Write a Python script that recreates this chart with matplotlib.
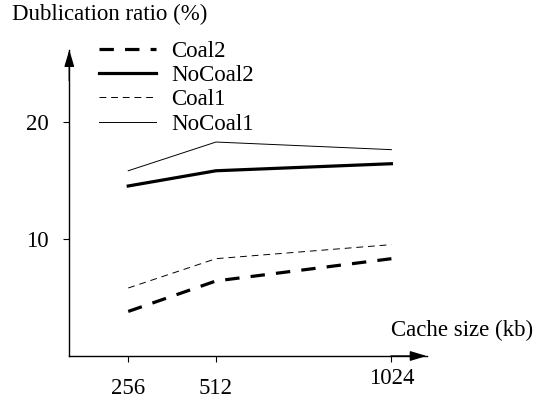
import matplotlib
matplotlib.use("Agg")
import matplotlib.pyplot as plt

plt.rcParams['font.family'] = ['Liberation Serif', 'DejaVu Serif']

cache_kb = [256, 512, 1024]
coal2 = [3.8, 6.4, 8.3]
nocoal2 = [14.5, 15.8, 16.4]
coal1 = [5.8, 8.3, 9.5]
nocoal1 = [15.8, 18.25, 17.6]
yticks = [10, 20]

FS = 16.5
W, H = 538, 403
fig = plt.figure(figsize=(W / 100, H / 100), dpi=100)
ax = fig.add_axes([69.3 / W, (H - 356) / H, (426.7 - 69.3) / W, (356 - 50) / H])

ax.plot(cache_kb, coal2, color="k", lw=2.3, dashes=(4.5, 3.5), label="Coal2")
ax.plot(cache_kb, nocoal2, color="k", lw=2.3, label="NoCoal2")
ax.plot(cache_kb, coal1, color="k", lw=0.7, dashes=(7, 5), label="Coal1")
ax.plot(cache_kb, nocoal1, color="k", lw=0.7, label="NoCoal1")

ax.set_xlim(84, 1127)
ax.set_ylim(0, 26.1)
ax.set_xticks(cache_kb)
ax.set_xticklabels([str(c) for c in cache_kb])
ax.set_yticks(yticks)

for s in ["top", "right"]:
    ax.spines[s].set_visible(False)
for s in ["left", "bottom"]:
    ax.spines[s].set_linewidth(1.0)

ax.tick_params(direction="out", length=4.5, width=0.8, labelsize=FS)
ax.tick_params(axis="y", pad=10)
ax.tick_params(axis="x", pad=11)
ax.xaxis.get_major_ticks()[2].set_pad(4.5)

# arrow heads on the axes
arrow = dict(arrowstyle="-|>,head_length=1.0,head_width=0.3", color="k",
             lw=1.0, shrinkA=0, shrinkB=0)
ax.annotate("", xy=(1, 0), xytext=(0.9, 0), xycoords="axes fraction",
            arrowprops=arrow, annotation_clip=False)
ax.annotate("", xy=(0, 1), xytext=(0, 0.9), xycoords="axes fraction",
            arrowprops=arrow, annotation_clip=False)

leg = ax.legend(loc="upper left", bbox_to_anchor=(0.058, 1.06), frameon=False,
                fontsize=FS, handlelength=2.5, handletextpad=0.65,
                labelspacing=0.14, borderaxespad=0)

fig.text(12 / W, 1 - 14 / H, "Dublication ratio (%)", fontsize=FS,
         ha="left", va="center")
fig.text(533 / W, 1 - 330 / H, "Cache size (kb)", fontsize=FS,
         ha="right", va="center")

fig.savefig("out.png", dpi=100)
